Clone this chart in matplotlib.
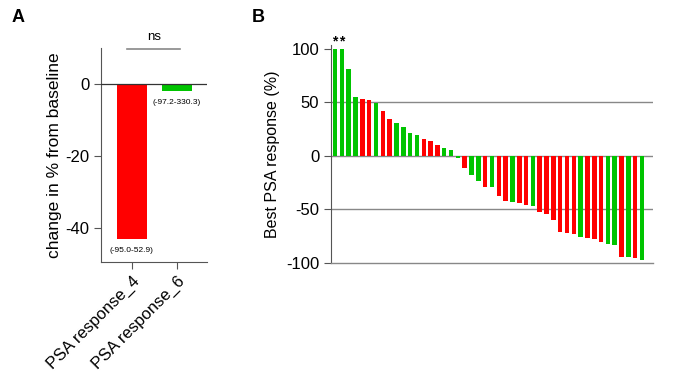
import matplotlib
matplotlib.use('Agg')
import matplotlib.pyplot as plt

plt.rcParams['font.family'] = ['Liberation Sans', 'DejaVu Sans']
plt.rcParams['axes.unicode_minus'] = False

# Panel A data
a_labels = ['PSA response_4', 'PSA response_6']
a_values = [-43.1, -1.9]
a_colors = ['#ff0000', '#00c400']
a_ranges = ['(-95.0-52.9)', '(-97.2-330.3)']

# Panel B data (waterfall, best PSA response in %)
b_values = [100, 100, 81, 55.4, 53, 52.3, 49.8, 42, 34.3, 31.1,
            27.1, 21.5, 19.3, 16.2, 14, 10.3, 7.5, 5.3, -2.1, -11.1,
            -17.9, -23.8, -29.3, -29.3, -37, -42.3, -42.9, -43.5, -45.4, -46.9,
            -52.8, -54.3, -60.2, -71.5, -72.4, -72.5, -75.5, -76.5, -78, -80.5,
            -82.4, -83, -94.4, -94.4, -95.4, -97.2]
b_groups = 'GGGGRRGRRGGGGRRRGGGRGGRGRRGRRGRRRRRRGRRRGGRGRG'
b_stars = [0, 1]

RED = '#ff0000'
GREEN = '#00c400'

fig = plt.figure(figsize=(6.85, 3.86), dpi=100)

# ---- Panel A ----
axA = fig.add_axes([0.1474, 0.3212, 0.1548, 0.5544])
xa = list(range(len(a_values)))
axA.bar(xa, a_values, width=0.667, color=a_colors, zorder=2)
axA.axhline(0, color='#333333', lw=0.9, zorder=3)
axA.set_xlim(-0.68, 1.67)
axA.set_ylim(-49.5, 10)
axA.set_yticks([0, -20, -40])
axA.set_xticks(xa)
axA.set_xticklabels(a_labels, rotation=45, ha='right', rotation_mode='anchor', fontsize=12)
axA.tick_params(axis='y', labelsize=12, length=5, color='#555555', width=0.8)
axA.tick_params(axis='x', length=5, color='#555555', width=0.8)
axA.set_ylabel('change in % from baseline', fontsize=12.5, labelpad=2)
for s in ['top', 'right']:
    axA.spines[s].set_visible(False)
for s in ['left', 'bottom']:
    axA.spines[s].set_color('#555555')
    axA.spines[s].set_linewidth(0.8)
# range annotations
axA.text(xa[0], a_values[0] - 2.2, a_ranges[0], ha='center', va='top', fontsize=6)
axA.text(xa[1], a_values[1] - 2.2, a_ranges[1], ha='center', va='top', fontsize=6)
# significance bracket
axA.plot([-0.1, 1.08], [9.6, 9.6], color='#888888', lw=1.2, clip_on=False)
axA.text(0.49, 11.5, 'ns', ha='center', va='bottom', fontsize=9.5)

# ---- Panel B ----
axB = fig.add_axes([0.4832, 0.3187, 0.4700, 0.5648])
xb = list(range(len(b_values)))
colsB = [GREEN if g == 'G' else RED for g in b_groups]
axB.bar(xb, b_values, width=0.66, color=colsB, zorder=2)
for y in [-50, 0, 50]:
    axB.axhline(y, color='#888888', lw=1.0, zorder=1)
for i in b_stars:
    axB.text(xb[i], b_values[i] + 0.5, '*', ha='center', va='bottom', fontsize=10, fontweight='bold')
axB.set_xlim(-0.6, 46.6)
axB.set_ylim(-100, 103.7)
axB.set_yticks([-100, -50, 0, 50, 100])
axB.set_xticks([])
axB.tick_params(axis='y', labelsize=12, length=5, color='#555555', width=0.8)
axB.set_ylabel('Best PSA response (%)', fontsize=11.5, labelpad=4)
for s in ['top', 'right']:
    axB.spines[s].set_visible(False)
axB.spines['left'].set_color('#555555')
axB.spines['left'].set_linewidth(0.8)
axB.spines['bottom'].set_color('#888888')
axB.spines['bottom'].set_linewidth(1.0)

fig.text(12 / 685, 1 - 18 / 386, 'A', fontsize=13, fontweight='bold', va='center')
fig.text(252 / 685, 1 - 18 / 386, 'B', fontsize=13, fontweight='bold', va='center')

fig.savefig('out.png', dpi=100)
